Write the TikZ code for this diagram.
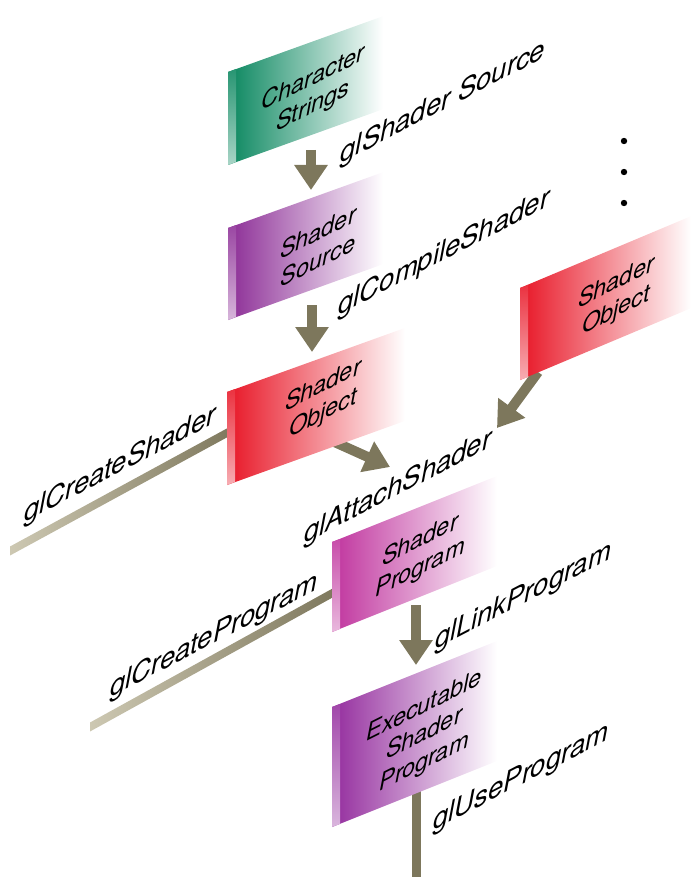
\documentclass[tikz,border=0pt]{standalone}
\usepackage{fontspec}
\setmainfont{TeX Gyre Heros}
\usetikzlibrary{arrows.meta,calc}
\definecolor{cgreen}{RGB}{10,135,95}
\definecolor{cpurple}{RGB}{140,45,150}
\definecolor{cred}{RGB}{232,22,38}
\definecolor{cpink}{RGB}{192,52,158}
\definecolor{cexec}{RGB}{148,45,158}
\definecolor{rod}{RGB}{125,119,92}
\definecolor{rodlight}{RGB}{205,200,178}
\newcommand\slantbox[6]{%
  \shade[left color=#6, middle color=#6!72!white, right color=white]
    (#1,#2) -- ({#1+#4},{#2-#5*#4}) -- ({#1+#4},{#3-#5*#4}) -- (#1,#3) -- cycle;
  \shade[top color=#6!88!white, bottom color=#6!35!white]
    (#1,#2) -- ({#1+8},{#2-3}) -- ({#1+8},{#3-3}) -- (#1,#3) -- cycle;
}
\tikzset{
  lbl/.style={font=\fontsize{27.5}{30}\selectfont\itshape, yslant=0.52, inner sep=0pt},
  boxtxt/.style={font=\fontsize{23.5}{28}\selectfont\itshape, yslant=0.5, align=center, inner sep=0pt},
  flow/.style={draw=rod, line width=10pt, -{Triangle[width=32pt,length=25pt]}},
  rodline/.style={draw=rod, line width=9pt},
}
\begin{document}
\begin{tikzpicture}[x=1pt,y=-1pt]
\useasboundingbox (0,0) rectangle (691,877);
% connector end points
\coordinate (cs-o) at (311,150);
\coordinate (ss-i) at (311,190);
\coordinate (ss-o) at (312,305);
\coordinate (so-i) at (312,352);
\coordinate (so-o) at (330,440);
\coordinate (att) at (390,467);
\coordinate (so2-o) at (538,372);
\coordinate (att2) at (497,428);
\coordinate (so-l) at (236,428);
\coordinate (cshd) at (10,551);
\coordinate (sp-l) at (338,590);
\coordinate (cprg) at (90,727);
\coordinate (sp-o) at (416,605);
\coordinate (esp-i) at (416,665);
\coordinate (esp-o) at (416,790);
\coordinate (use) at (416,877);
% connectors
\draw[flow] (cs-o) -- (ss-i);
\draw[flow] (ss-o) -- (so-i);
\draw[flow] (so-o) -- (att);
\draw[flow] (so2-o) -- (att2);
\draw[flow] (sp-o) -- (esp-i);
\shade[left color=rodlight, right color=rod]
  ($(cshd)+(0,-4.5)$) -- ($(so-l)+(0,-4.5)$) -- ($(so-l)+(0,4.5)$) -- ($(cshd)+(0,4.5)$) -- cycle;
\shade[left color=rodlight, right color=rod]
  ($(cprg)+(0,-4.5)$) -- ($(sp-l)+(0,-4.5)$) -- ($(sp-l)+(0,4.5)$) -- ($(cprg)+(0,4.5)$) -- cycle;
\draw[rodline] (esp-o) -- (use);
% boxes
\slantbox{228}{72}{165}{155}{0.36}{cgreen}
\slantbox{228}{228}{320}{155}{0.36}{cpurple}
\slantbox{227}{392}{485}{178}{0.36}{cred}
\slantbox{520}{288}{380}{171}{0.42}{cred}
\slantbox{332}{542}{632}{165}{0.40}{cpink}
\slantbox{332}{707}{827}{165}{0.40}{cexec}
% box texts
\node[boxtxt] (cs) at (313,93) {Character\\Strings};
\node[boxtxt] (ss) at (318,246) {Shader\\Source};
\node[boxtxt] (so) at (323,400) {Shader\\Object};
\node[boxtxt] (so2) at (616,297) {Shader\\Object};
\node[boxtxt] (sp) at (420,555) {Shader\\Program};
\node[boxtxt] (esp) at (424,735) {Executable\\Shader\\Program};
% labels
\node[lbl] (l1) at (443,103) {glShader Source};
\node[lbl] (l2) at (444,253) {glCompileShader};
\node[lbl] (l3) at (120,465) {glCreateShader};
\node[lbl] (l4) at (398,488) {glAttachShader};
\node[lbl] (l5) at (214,636) {glCreateProgram};
\node[lbl] (l6) at (523,597) {glLinkProgram};
\node[lbl] (l7) at (521,778) {glUseProgram};
% dots
\fill (624,141) circle (3.2) (624,172) circle (3.2) (624,203) circle (3.2);
\end{tikzpicture}
\end{document}
